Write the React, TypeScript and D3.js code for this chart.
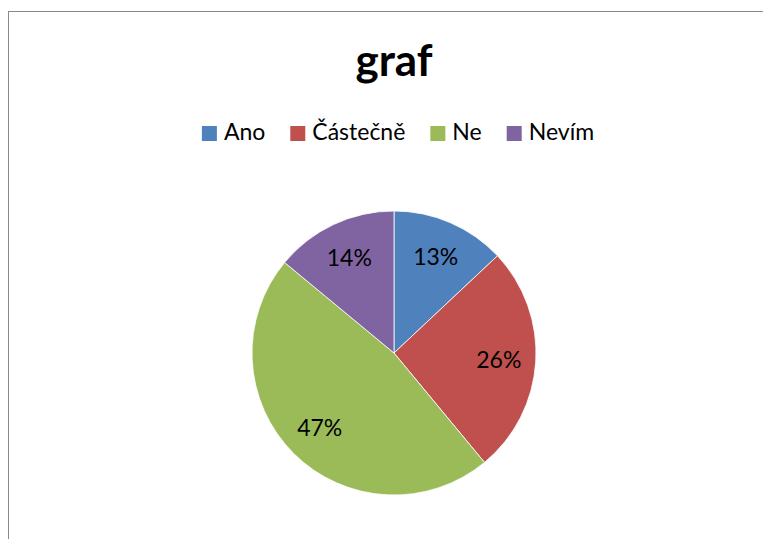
import React, { useEffect, useRef } from 'react'
import * as d3 from 'd3'

const categories = ['Ano', 'Částečně', 'Ne', 'Nevím']
const values = [13, 26, 47, 14]
const colors = ['#4F81BD', '#C0504D', '#9BBB59', '#8064A2']
const title = 'graf'

const W = 763
const H = 539
const FONT = 'Lato, "Liberation Sans", sans-serif'

export default function App () {
  const ref = useRef<SVGSVGElement>(null)

  useEffect(() => {
    const svg = d3.select(ref.current)
    svg.selectAll('*').remove()

    // chart area frame (runs off the right/bottom edge)
    svg.append('rect')
      .attr('x', 8.5).attr('y', 11.5)
      .attr('width', W + 20).attr('height', H + 20)
      .attr('fill', '#fff').attr('stroke', '#898989')

    svg.append('text')
      .attr('x', 394).attr('y', 76)
      .attr('text-anchor', 'middle')
      .attr('font-family', FONT).attr('font-weight', 'bold')
      .attr('font-size', 44)
      .text(title)

    // legend, laid out from measured text widths
    const legend = svg.append('g')
    const box = 15
    const pad = 7
    const gap = 25
    let x = 0
    categories.forEach((c, i) => {
      const g = legend.append('g').attr('transform', `translate(${x},0)`)
      g.append('rect')
        .attr('x', 0).attr('y', -14)
        .attr('width', box).attr('height', box)
        .attr('fill', colors[i])
      const t = g.append('text')
        .attr('x', box + pad).attr('y', 0)
        .attr('font-family', FONT).attr('font-size', 23)
        .text(c)
      const w = (t.node() as SVGTextElement).getComputedTextLength()
      x += box + pad + w + gap
    })
    const total = x - gap
    legend.attr('transform', `translate(${398 - total / 2},140)`)

    // pie
    const radius = 142
    const pie = d3.pie<number>().sort(null).value(d => d)
    const arcs = pie(values)
    const arc = d3.arc<d3.PieArcDatum<number>>().innerRadius(0).outerRadius(radius)
    const labelArc = d3.arc<d3.PieArcDatum<number>>().innerRadius(105).outerRadius(105)
    const sum = d3.sum(values)

    const g = svg.append('g').attr('transform', 'translate(394,353)')
    g.selectAll('path')
      .data(arcs)
      .join('path')
      .attr('d', arc)
      .attr('fill', (d, i) => colors[i])
      .attr('stroke', '#fff')
      .attr('stroke-width', 0.8)

    g.selectAll('text')
      .data(arcs)
      .join('text')
      .attr('transform', d => {
        const [cx, cy] = labelArc.centroid(d)
        return `translate(${cx},${cy})`
      })
      .attr('text-anchor', 'middle')
      .attr('dy', '0.36em')
      .attr('font-family', FONT)
      .attr('font-size', 23)
      .attr('fill', '#000')
      .text(d => `${Math.round(d.value / sum * 100)}%`)
  }, [])

  return (
    <svg ref={ref} width={W} height={H}
      style={{ position: 'absolute', left: 0, top: 0, background: '#fff' }} />
  )
}
